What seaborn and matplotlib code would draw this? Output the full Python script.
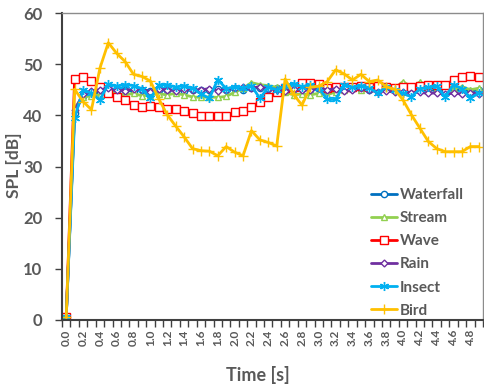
import numpy as np
import pandas as pd
import matplotlib
matplotlib.use("Agg")
import matplotlib.pyplot as plt
import seaborn as sns
from matplotlib.ticker import FixedLocator, NullFormatter

# Time axis: 0.0 s to 4.9 s in 0.1 s steps
time_s = [round(0.1 * i, 1) for i in range(50)]

waterfall = [0.5, 40.5, 43.8, 44.2, 44.5, 45.0, 44.8, 45.0, 44.7, 45.0,
             44.8, 45.0, 44.9, 45.0, 44.8, 45.0, 44.9, 45.0, 45.1, 45.0,
             45.2, 45.0, 45.3, 45.4, 45.2, 45.3, 45.0, 45.2, 45.1, 45.0,
             45.2, 45.0, 45.1, 45.3, 45.2, 45.1, 45.0, 45.2, 45.1, 45.0,
             44.8, 45.0, 44.9, 45.1, 44.8, 45.0, 44.9, 45.1, 44.8, 44.9]
stream = [0.5, 41.5, 43.6, 43.8, 44.0, 44.5, 44.2, 44.0, 44.3, 43.8,
          44.0, 44.2, 44.0, 44.3, 44.0, 43.6, 43.5, 43.6, 43.5, 43.7,
          44.5, 45.3, 46.4, 46.0, 45.8, 45.5, 44.5, 44.0, 44.2, 44.0,
          44.3, 44.0, 44.6, 45.0, 45.3, 45.0, 45.5, 46.3, 45.6, 45.3,
          46.6, 45.5, 46.5, 45.8, 45.4, 46.0, 45.2, 45.6, 45.0, 45.3]
wave = [0.5, 47.1, 47.5, 46.8, 45.5, 44.4, 43.5, 43.0, 42.0, 41.7,
        41.8, 41.6, 41.2, 41.2, 40.9, 40.4, 39.9, 39.9, 39.9, 39.9,
        40.7, 40.9, 41.6, 42.7, 43.6, 44.6, 45.4, 45.6, 46.4, 46.4,
        46.2, 45.3, 45.5, 45.5, 45.6, 45.7, 45.6, 45.7, 45.5, 45.3,
        45.5, 45.6, 45.7, 45.9, 45.9, 45.9, 46.9, 47.4, 47.7, 47.4]
rain = [0.5, 41.0, 44.2, 44.8, 45.0, 45.3, 45.0, 44.8, 45.2, 45.0,
        44.6, 45.2, 45.0, 44.8, 45.1, 44.9, 45.0, 45.2, 44.8, 45.0,
        45.3, 45.5, 45.3, 45.6, 45.2, 45.0, 44.8, 45.2, 44.9, 45.0,
        45.3, 45.0, 45.2, 44.8, 45.0, 45.3, 44.9, 44.6, 44.8, 44.5,
        44.6, 44.4, 44.5, 44.3, 44.4, 44.2, 44.3, 44.2, 44.4, 44.2]
insect = [0.5, 39.5, 45.0, 44.3, 43.0, 46.1, 45.7, 46.0, 45.8, 45.2,
          43.3, 45.9, 46.0, 45.5, 45.8, 45.3, 44.2, 43.3, 47.0, 45.2,
          45.6, 45.4, 45.8, 43.3, 45.5, 45.0, 45.8, 46.2, 45.6, 46.0,
          45.4, 43.1, 43.1, 46.0, 45.5, 45.8, 45.4, 44.3, 45.6, 45.0,
          44.3, 43.6, 45.2, 45.5, 45.7, 43.6, 46.0, 45.2, 43.4, 44.3]
bird = [0.5, 45.1, 42.7, 41.1, 49.2, 54.2, 52.1, 50.5, 48.0, 47.6,
        46.7, 43.2, 40.1, 37.9, 35.8, 33.5, 33.1, 33.0, 32.1, 33.9,
        32.8, 32.1, 37.0, 35.2, 34.7, 34.0, 47.1, 44.1, 42.0, 45.5,
        45.7, 46.6, 48.9, 48.1, 46.9, 48.0, 46.6, 46.9, 45.6, 45.1,
        43.0, 40.1, 37.5, 34.9, 33.5, 32.9, 32.9, 32.9, 33.9, 33.9]

series_names = ["Waterfall", "Stream", "Wave", "Rain", "Insect", "Bird"]
series_values = [waterfall, stream, wave, rain, insect, bird]
colors = ["#0070C0", "#92D050", "#FF0000", "#7030A0", "#00B0F0", "#FFC000"]
markers = ["o", "^", "s", "D", (6, 2, 0), "+"]
marker_sizes = [4.5, 5, 5.5, 3.5, 6.5, 7]
open_face = [True, True, True, True, False, False]

y_ticks = [0, 10, 20, 30, 40, 50, 60]
x_tick_labels = [f"{t:.1f}" for t in time_s[::2]]

text_color = "#595959"

sns.set_theme(style="white")
plt.rcParams["font.family"] = ["Lato", "DejaVu Sans"]

fig = plt.figure(figsize=(4.85, 3.89), dpi=100)
ax = fig.add_axes([62 / 485, 1 - 320 / 389, 421 / 485, 307 / 389])

df = pd.DataFrame({"Time": time_s})
for name, vals in zip(series_names, series_values):
    df[name] = vals

for name, col, mk, ms, of in zip(series_names, colors, markers, marker_sizes, open_face):
    sns.lineplot(data=df, x="Time", y=name, ax=ax, color=col, linewidth=2.0,
                 marker=mk, markersize=ms, markeredgewidth=1.0,
                 markerfacecolor="white" if of else col,
                 markeredgecolor=col, label=name)

ax.set_xlim(-0.05, 4.95)
ax.set_ylim(0, 60)
ax.set_yticks(y_ticks)
ax.set_yticklabels([str(v) for v in y_ticks], fontsize=12, fontweight="bold",
                   color=text_color)

ax.xaxis.set_major_locator(FixedLocator(time_s[::2]))
ax.set_xticklabels(x_tick_labels, rotation=90, fontsize=8.5, fontweight="bold",
                   color=text_color)
ax.xaxis.set_minor_locator(FixedLocator([t + 0.05 for t in [-0.1] + time_s]))
ax.xaxis.set_minor_formatter(NullFormatter())
ax.tick_params(axis="x", which="major", length=0, pad=7)
ax.tick_params(axis="x", which="minor", length=5, width=1, color="#404040",
               direction="out", bottom=True)
ax.tick_params(axis="y", length=5, width=1, color="#404040", direction="out",
               left=True, pad=9)

ax.set_xlabel("Time [s]", fontsize=13, fontweight="bold", color=text_color)
ax.set_ylabel("SPL [dB]", fontsize=12.5, fontweight="bold", color=text_color)
ax.xaxis.set_label_coords(0.466, -0.15)
ax.yaxis.set_label_coords(-0.096, 0.505)

for side in ["left", "bottom"]:
    ax.spines[side].set_color("#404040")
    ax.spines[side].set_linewidth(1.5)
for side in ["top", "right"]:
    ax.spines[side].set_color("#8c8c8c")
    ax.spines[side].set_linewidth(1.0)

leg = ax.legend(loc="upper left", bbox_to_anchor=(371 / 485, 1 - 188 / 389),
                bbox_transform=fig.transFigure, frameon=False,
                prop={"weight": "bold", "size": 11}, handlelength=1.7,
                handletextpad=0.2, labelspacing=0.6, borderpad=0,
                borderaxespad=0)
for txt in leg.get_texts():
    txt.set_color(text_color)

fig.savefig("out.png", dpi=100)
